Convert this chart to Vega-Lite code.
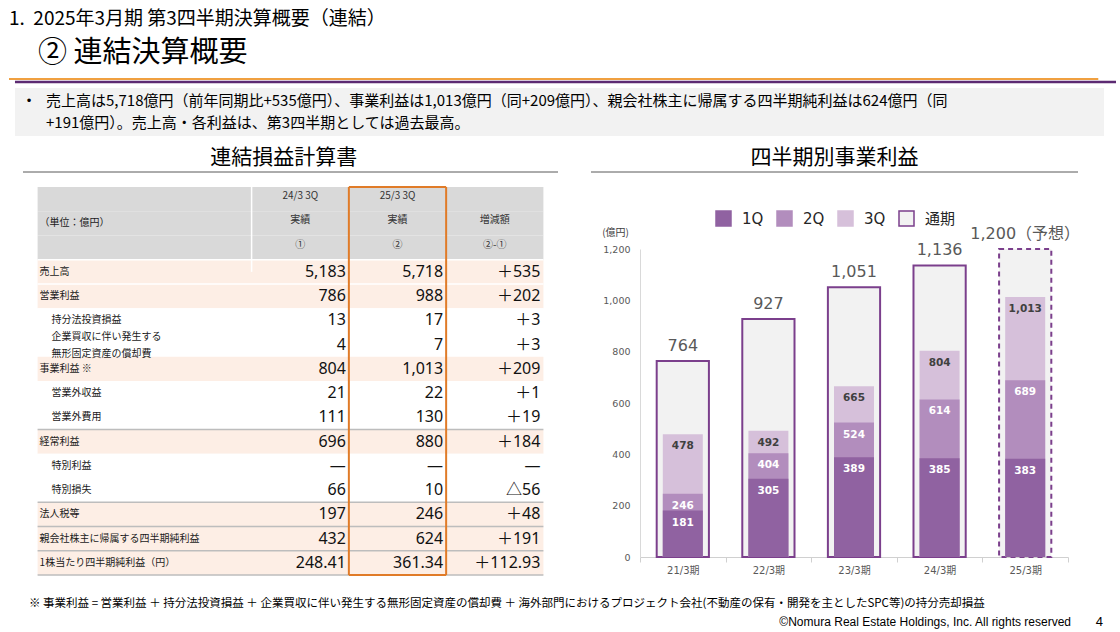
{
"$schema":"https://vega.github.io/schema/vega-lite/v6.json",
"background":"#ffffff",
"padding":{"left":8,"top":10,"right":5,"bottom":0},
"config":{"view":{"stroke":null},"font":"Noto Sans CJK JP"},
"title":{"text":"1.\u00a0\u00a02025年3月期 第3四半期決算概要（連結）","subtitle":"\u200b\u3000② 連結決算概要","anchor":"start","frame":"group","fontSize":19,"fontWeight":"normal","font":"Noto Sans CJK JP","color":"#000000","subtitleFontSize":29,"subtitleFont":"Noto Sans CJK JP","subtitleColor":"#000000","subtitlePadding":10,"offset":10},
"datasets":{
"rows":[
{"r":"h1","shade":"header","below":"none"},
{"r":"h2","shade":"header","below":"none","level":0,"label":"（単位：億円）"},
{"r":"h3","shade":"header","below":"white"},
{"r":"r1","shade":"peach","level":0,"label":"売上高","below":"white"},
{"r":"r2","shade":"peach","level":0,"label":"営業利益","below":"none"},
{"r":"r3","shade":"white","level":1,"label":"持分法投資損益","below":"none"},
{"r":"r4","shade":"white","level":2,"label":"企業買収に伴い発生する\n無形固定資産の償却費","below":"none"},
{"r":"r5","shade":"peach","level":0,"label":"事業利益  ※","below":"none"},
{"r":"r6","shade":"white","level":1,"label":"営業外収益","below":"none"},
{"r":"r7","shade":"white","level":1,"label":"営業外費用","below":"gray"},
{"r":"r8","shade":"peach","level":0,"label":"経常利益","below":"none"},
{"r":"r9","shade":"white","level":1,"label":"特別利益","below":"none"},
{"r":"r10","shade":"white","level":1,"label":"特別損失","below":"gray"},
{"r":"r11","shade":"peach","level":0,"label":"法人税等","below":"gray"},
{"r":"r12","shade":"peach","level":0,"label":"親会社株主に帰属する四半期純利益","below":"gray"},
{"r":"r13","shade":"peach","level":0,"label":"1株当たり四半期純利益（円）","below":"gray"}
],
"cells":[
{"r":"h1","col":1,"kind":"header","text":"24/3 3Q"},
{"r":"h1","col":2,"kind":"header","text":"25/3 3Q"},
{"r":"h2","col":1,"kind":"header","text":"実績"},
{"r":"h2","col":2,"kind":"header","text":"実績"},
{"r":"h2","col":3,"kind":"header","text":"増減額"},
{"r":"h3","col":1,"kind":"header","text":"①"},
{"r":"h3","col":2,"kind":"header","text":"②"},
{"r":"h3","col":3,"kind":"header","text":"②-①"},
{"r":"r1","col":1,"kind":"body","text":"5,183"},{"r":"r1","col":2,"kind":"body","text":"5,718"},{"r":"r1","col":3,"kind":"body","text":"＋535"},
{"r":"r2","col":1,"kind":"body","text":"786"},{"r":"r2","col":2,"kind":"body","text":"988"},{"r":"r2","col":3,"kind":"body","text":"＋202"},
{"r":"r3","col":1,"kind":"body","text":"13"},{"r":"r3","col":2,"kind":"body","text":"17"},{"r":"r3","col":3,"kind":"body","text":"＋3"},
{"r":"r4","col":1,"kind":"body","text":"4"},{"r":"r4","col":2,"kind":"body","text":"7"},{"r":"r4","col":3,"kind":"body","text":"＋3"},
{"r":"r5","col":1,"kind":"body","text":"804"},{"r":"r5","col":2,"kind":"body","text":"1,013"},{"r":"r5","col":3,"kind":"body","text":"＋209"},
{"r":"r6","col":1,"kind":"body","text":"21"},{"r":"r6","col":2,"kind":"body","text":"22"},{"r":"r6","col":3,"kind":"body","text":"＋1"},
{"r":"r7","col":1,"kind":"body","text":"111"},{"r":"r7","col":2,"kind":"body","text":"130"},{"r":"r7","col":3,"kind":"body","text":"＋19"},
{"r":"r8","col":1,"kind":"body","text":"696"},{"r":"r8","col":2,"kind":"body","text":"880"},{"r":"r8","col":3,"kind":"body","text":"＋184"},
{"r":"r9","col":1,"kind":"body","text":"―"},{"r":"r9","col":2,"kind":"body","text":"―"},{"r":"r9","col":3,"kind":"body","text":"―"},
{"r":"r10","col":1,"kind":"body","text":"66"},{"r":"r10","col":2,"kind":"body","text":"10"},{"r":"r10","col":3,"kind":"body","text":"△56"},
{"r":"r11","col":1,"kind":"body","text":"197"},{"r":"r11","col":2,"kind":"body","text":"246"},{"r":"r11","col":3,"kind":"body","text":"＋48"},
{"r":"r12","col":1,"kind":"body","text":"432"},{"r":"r12","col":2,"kind":"body","text":"624"},{"r":"r12","col":3,"kind":"body","text":"＋191"},
{"r":"r13","col":1,"kind":"body","text":"248.41"},{"r":"r13","col":2,"kind":"body","text":"361.34"},{"r":"r13","col":3,"kind":"body","text":"＋112.93"}
],
"bars":[
{"period":"21/3期","series":"通期","value":764,"label":"764","type":"実績"},
{"period":"21/3期","series":"3Q","value":478},
{"period":"21/3期","series":"2Q","value":246},
{"period":"21/3期","series":"1Q","value":181},
{"period":"22/3期","series":"通期","value":927,"label":"927","type":"実績"},
{"period":"22/3期","series":"3Q","value":492},
{"period":"22/3期","series":"2Q","value":404},
{"period":"22/3期","series":"1Q","value":305},
{"period":"23/3期","series":"通期","value":1051,"label":"1,051","type":"実績"},
{"period":"23/3期","series":"3Q","value":665},
{"period":"23/3期","series":"2Q","value":524},
{"period":"23/3期","series":"1Q","value":389},
{"period":"24/3期","series":"通期","value":1136,"label":"1,136","type":"実績"},
{"period":"24/3期","series":"3Q","value":804},
{"period":"24/3期","series":"2Q","value":614},
{"period":"24/3期","series":"1Q","value":385},
{"period":"25/3期","series":"通期","value":1200,"label":"1,200（予想）","type":"予想"},
{"period":"25/3期","series":"3Q","value":1013},
{"period":"25/3期","series":"2Q","value":689},
{"period":"25/3期","series":"1Q","value":383}
]
},
"spacing":11,
"resolve":{"scale":{"color":"independent","stroke":"independent","strokeDash":"independent"},"legend":{"color":"independent","stroke":"independent","strokeDash":"independent"}},
"vconcat":[
{"spacing":4,"vconcat":[
 {"width":1107,"height":3,"data":{"values":[{"k":1}]},"layer":[
  {"mark":{"type":"rule","stroke":"#f0a040","strokeWidth":2},"encoding":{"x":{"datum":0,"type":"quantitative","scale":{"domain":[0,1]},"axis":null},"x2":{"datum":0.984},"y":{"datum":1,"type":"quantitative","scale":{"domain":[0,1]},"axis":null}}},
  {"mark":{"type":"rule","stroke":"#5c2a72","strokeWidth":2.5},"encoding":{"x":{"datum":0.0054,"type":"quantitative","scale":{"domain":[0,1]},"axis":null},"x2":{"datum":1},"y":{"datum":0,"type":"quantitative","scale":{"domain":[0,1]},"axis":null}}}
 ]},
 {"width":1095,"height":48,"resolve":{"scale":{"y":"independent"}},
  "layer":[
   {"data":{"values":[{"k":1}]},"mark":{"type":"rect","color":"#f2f2f2"},
    "encoding":{"x":{"datum":0.00548,"type":"quantitative","scale":{"domain":[0,1]},"axis":null},"x2":{"datum":1},"y":{"datum":0,"type":"quantitative","scale":{"domain":[0,1]},"axis":null},"y2":{"datum":1}}},
   {"data":{"values":[{"line":1,"text":"売上高は5,718億円（前年同期比+535億円）、事業利益は1,013億円（同+209億円）、親会社株主に帰属する四半期純利益は624億円（同"},{"line":2,"text":"+191億円）。売上高・各利益は、第3四半期としては過去最高。"}]},
    "mark":{"type":"text","align":"left","baseline":"middle","dx":37,"fontSize":15,"font":"Noto Sans CJK JP","color":"#000000"},
    "encoding":{"x":{"datum":0,"type":"quantitative","scale":{"domain":[0,1]},"axis":null},"y":{"field":"line","type":"ordinal","scale":{"type":"point","domain":[1,2],"padding":0.6},"axis":null},"text":{"field":"text"}}},
   {"data":{"values":[{"line":1}]},"mark":{"type":"text","align":"center","baseline":"middle","dx":20,"fontSize":12,"font":"DejaVu Sans","color":"#000000"},
    "encoding":{"x":{"datum":0,"type":"quantitative","scale":{"domain":[0,1]},"axis":null},"y":{"field":"line","type":"ordinal","scale":{"type":"point","domain":[1,2],"padding":0.6},"axis":null},"text":{"value":"•"}}}
  ]}
]},
{"spacing":19,
 "resolve":{"scale":{"color":"independent","stroke":"independent","strokeDash":"independent"},"legend":{"color":"independent","stroke":"independent","strokeDash":"independent"}},
 "vconcat":[
 {"spacing":31,
  "resolve":{"scale":{"color":"independent","stroke":"independent","strokeDash":"independent"},"legend":{"color":"independent","stroke":"independent","strokeDash":"independent"}},
  "hconcat":[
  {"spacing":13,"vconcat":[
   {"width":549,"height":1,"title":{"text":"連結損益計算書","fontSize":21,"fontWeight":"normal","font":"Noto Sans CJK JP","color":"#000000","offset":3,"anchor":"middle","frame":"bounds"},
    "data":{"values":[{"k":1}]},"mark":{"type":"rule","stroke":"#595959","strokeWidth":1},
    "encoding":{"x":{"datum":0,"type":"quantitative","scale":{"domain":[-0.02617,1],"nice":false,"zero":false},"axis":null},"x2":{"datum":1},"y":{"datum":0,"type":"quantitative","scale":{"domain":[0,1]},"axis":null}}},
   {"width":549,"height":388,"layer":[
    {"data":{"name":"rows"},"mark":{"type":"rect"},
     "encoding":{"x":{"datum":-2.2,"type":"quantitative","scale":{"domain":[-2.494,3.15],"nice":false,"zero":false},"axis":null},"x2":{"datum":3},
      "y":{"field":"r","type":"ordinal","scale":{"type":"band","domain":["h1","h2","h3","r1","r2","r3","r4","r5","r6","r7","r8","r9","r10","r11","r12","r13"],"paddingInner":0,"paddingOuter":0},"axis":null},
      "fill":{"condition":[{"test":"datum.shade === 'header'","value":"#d9d9d9"},{"test":"datum.shade === 'peach'","value":"#fdeee5"}],"value":"#ffffff"}}},
    {"data":{"name":"rows"},"transform":[{"filter":"datum.below !== 'none'"}],"mark":{"type":"rule","strokeWidth":1.5},
     "encoding":{"x":{"datum":-2.2,"type":"quantitative","scale":{"domain":[-2.494,3.15],"nice":false,"zero":false},"axis":null},"x2":{"datum":3},
      "y":{"field":"r","type":"ordinal","bandPosition":1,"scale":{"type":"band","domain":["h1","h2","h3","r1","r2","r3","r4","r5","r6","r7","r8","r9","r10","r11","r12","r13"],"paddingInner":0,"paddingOuter":0},"axis":null},
      "stroke":{"condition":{"test":"datum.below === 'white'","value":"#ffffff"},"value":"#bdbdbd"}}},
    {"data":{"values":[{"r":"h1","r2":"r1"}]},"mark":{"type":"rule","stroke":"#ffffff","strokeWidth":1.5},
     "encoding":{"x":{"datum":0,"type":"quantitative","scale":{"domain":[-2.494,3.15],"nice":false,"zero":false},"axis":null},
      "y":{"field":"r","type":"ordinal","bandPosition":0,"scale":{"type":"band","domain":["h1","h2","h3","r1","r2","r3","r4","r5","r6","r7","r8","r9","r10","r11","r12","r13"],"paddingInner":0,"paddingOuter":0},"axis":null},
      "y2":{"field":"r2"}}},
    {"data":{"name":"rows"},"transform":[{"filter":"datum.level === 0"}],"mark":{"type":"text","align":"left","baseline":"middle","dx":2,"fontSize":10,"font":"Noto Sans CJK JP","color":"#1a1a1a"},
     "encoding":{"x":{"datum":-2.2,"type":"quantitative","scale":{"domain":[-2.494,3.15],"nice":false,"zero":false},"axis":null},
      "y":{"field":"r","type":"ordinal","scale":{"type":"band","domain":["h1","h2","h3","r1","r2","r3","r4","r5","r6","r7","r8","r9","r10","r11","r12","r13"],"paddingInner":0,"paddingOuter":0},"axis":null},
      "text":{"field":"label"}}},
    {"data":{"name":"rows"},"transform":[{"filter":"datum.level === 1"}],"mark":{"type":"text","align":"left","baseline":"middle","dx":14,"fontSize":10,"font":"Noto Sans CJK JP","color":"#1a1a1a"},
     "encoding":{"x":{"datum":-2.2,"type":"quantitative","scale":{"domain":[-2.494,3.15],"nice":false,"zero":false},"axis":null},
      "y":{"field":"r","type":"ordinal","scale":{"type":"band","domain":["h1","h2","h3","r1","r2","r3","r4","r5","r6","r7","r8","r9","r10","r11","r12","r13"],"paddingInner":0,"paddingOuter":0},"axis":null},
      "text":{"field":"label"}}},
    {"data":{"name":"rows"},"transform":[{"filter":"datum.level === 2"}],"mark":{"type":"text","align":"left","baseline":"middle","dx":14,"dy":-8,"fontSize":10,"lineBreak":"\n","lineHeight":17,"font":"Noto Sans CJK JP","color":"#1a1a1a"},
     "encoding":{"x":{"datum":-2.2,"type":"quantitative","scale":{"domain":[-2.494,3.15],"nice":false,"zero":false},"axis":null},
      "y":{"field":"r","type":"ordinal","scale":{"type":"band","domain":["h1","h2","h3","r1","r2","r3","r4","r5","r6","r7","r8","r9","r10","r11","r12","r13"],"paddingInner":0,"paddingOuter":0},"axis":null},
      "text":{"field":"label"}}},
    {"data":{"name":"cells"},"transform":[{"filter":"datum.kind === 'header'"}],"mark":{"type":"text","align":"center","baseline":"middle","dx":-48.6,"dy":-3,"fontSize":10,"font":"Noto Sans CJK JP","color":"#333333"},
     "encoding":{"x":{"field":"col","type":"quantitative","scale":{"domain":[-2.494,3.15],"nice":false,"zero":false},"axis":null},
      "y":{"field":"r","type":"ordinal","scale":{"type":"band","domain":["h1","h2","h3","r1","r2","r3","r4","r5","r6","r7","r8","r9","r10","r11","r12","r13"],"paddingInner":0,"paddingOuter":0},"axis":null},
      "text":{"field":"text"}}},
    {"data":{"name":"cells"},"transform":[{"filter":"datum.kind === 'body'"}],"mark":{"type":"text","align":"right","baseline":"middle","dx":-3,"fontSize":16,"font":"Noto Sans, Noto Sans CJK JP","color":"#111111"},
     "encoding":{"x":{"field":"col","type":"quantitative","scale":{"domain":[-2.494,3.15],"nice":false,"zero":false},"axis":null},
      "y":{"field":"r","type":"ordinal","scale":{"type":"band","domain":["h1","h2","h3","r1","r2","r3","r4","r5","r6","r7","r8","r9","r10","r11","r12","r13"],"paddingInner":0,"paddingOuter":0},"axis":null},
      "text":{"field":"text"}}},
    {"data":{"values":[{"k":1}]},"mark":{"type":"rule","stroke":"#e07b28","strokeWidth":2},
     "encoding":{"x":{"datum":1,"type":"quantitative","scale":{"domain":[-2.494,3.15],"nice":false,"zero":false},"axis":null}}},
    {"data":{"values":[{"k":1}]},"mark":{"type":"rule","stroke":"#e07b28","strokeWidth":2},
     "encoding":{"x":{"datum":2,"type":"quantitative","scale":{"domain":[-2.494,3.15],"nice":false,"zero":false},"axis":null}}},
    {"data":{"values":[{"r":"h1"}]},"mark":{"type":"rule","stroke":"#e07b28","strokeWidth":2},
     "encoding":{"x":{"datum":1,"type":"quantitative","scale":{"domain":[-2.494,3.15],"nice":false,"zero":false},"axis":null},"x2":{"datum":2},
      "y":{"field":"r","type":"ordinal","bandPosition":0,"scale":{"type":"band","domain":["h1","h2","h3","r1","r2","r3","r4","r5","r6","r7","r8","r9","r10","r11","r12","r13"],"paddingInner":0,"paddingOuter":0},"axis":null}}},
    {"data":{"values":[{"r":"r13"}]},"mark":{"type":"rule","stroke":"#e07b28","strokeWidth":2},
     "encoding":{"x":{"datum":1,"type":"quantitative","scale":{"domain":[-2.494,3.15],"nice":false,"zero":false},"axis":null},"x2":{"datum":2},
      "y":{"field":"r","type":"ordinal","bandPosition":1,"scale":{"type":"band","domain":["h1","h2","h3","r1","r2","r3","r4","r5","r6","r7","r8","r9","r10","r11","r12","r13"],"paddingInner":0,"paddingOuter":0},"axis":null}}}
   ]}
  ]},
  {"spacing":37,
   "resolve":{"scale":{"color":"independent","stroke":"independent","strokeDash":"independent"},"legend":{"color":"independent","stroke":"independent","strokeDash":"independent"}},
   "vconcat":[
   {"width":428,"height":1,"title":{"text":"四半期別事業利益","fontSize":21,"fontWeight":"normal","font":"Noto Sans CJK JP","color":"#000000","offset":3,"anchor":"middle","frame":"bounds"},
    "data":{"values":[{"k":1}]},"mark":{"type":"rule","stroke":"#595959","strokeWidth":1},
    "encoding":{"x":{"datum":-0.1145,"type":"quantitative","scale":{"domain":[0,1],"nice":false,"zero":false},"axis":null},"x2":{"datum":1.0234},"y":{"datum":0,"type":"quantitative","scale":{"domain":[0,1]},"axis":null}}},
   {"width":428,"height":308,"data":{"name":"bars"},
    "encoding":{
     "x":{"field":"period","type":"nominal","sort":null,"scale":{"type":"band","paddingInner":0,"paddingOuter":0},"axis":{"title":null,"labelAngle":0,"labelFontSize":10,"labelFont":"DejaVu Sans, Noto Sans CJK JP","labelColor":"#595959","domainColor":"#d0d0d0","tickColor":"#d0d0d0","tickSize":5,"tickBand":"extent","labelPadding":3}},
     "y":{"field":"value","type":"quantitative","stack":null,"scale":{"domain":[0,1200],"nice":false},"axis":{"values":[0,200,400,600,800,1000,1200],"format":",.0f","grid":false,"ticks":false,"labelFontSize":9.5,"labelColor":"#595959","labelFont":"DejaVu Sans","labelPadding":10,"domainColor":"#d9d9d9","minExtent":49,"title":"(億円)","titleAngle":0,"titleX":-25,"titleY":-17,"titleAlign":"center","titleBaseline":"middle","titleFontSize":10,"titleFontWeight":"normal","titleColor":"#404040","titleFont":"Noto Sans CJK JP"}}
    },
    "layer":[
     {"transform":[{"filter":"datum.series === '通期'"}],"mark":{"type":"bar","width":{"band":0.61},"strokeWidth":2},
      "encoding":{
       "color":{"field":"series","type":"nominal","scale":{"domain":["1Q","2Q","3Q","通期"],"range":["#9062a1","#b28dbd","#d6c0da","#f2f2f2"]},"legend":{"orient":"none","legendX":75,"legendY":-39,"direction":"horizontal","title":null,"symbolType":"square","symbolSize":225,"labelFontSize":15,"labelFont":"DejaVu Sans, Noto Sans CJK JP","labelColor":"#262626","labelOffset":10,"columnPadding":10,"symbolStrokeWidth":1.5}},
       "stroke":{"field":"series","type":"nominal","scale":{"domain":["1Q","2Q","3Q","通期"],"range":["#9062a1","#b28dbd","#d6c0da","#7b3f8c"]},"legend":{"orient":"none","legendX":75,"legendY":-39,"direction":"horizontal","title":null,"symbolType":"square","symbolSize":225,"labelFontSize":15,"labelFont":"DejaVu Sans, Noto Sans CJK JP","labelColor":"#262626","labelOffset":10,"columnPadding":10,"symbolStrokeWidth":1.5}},
       "strokeDash":{"field":"type","type":"nominal","scale":{"domain":["実績","予想"],"range":[[1,0],[5,4]]},"legend":null}}},
     {"transform":[{"filter":"datum.series !== '通期'"}],"mark":{"type":"bar","width":{"band":0.467}},
      "encoding":{
       "color":{"field":"series","type":"nominal","scale":{"domain":["1Q","2Q","3Q","通期"],"range":["#9062a1","#b28dbd","#d6c0da","#f2f2f2"]},"legend":{"orient":"none","legendX":75,"legendY":-39,"direction":"horizontal","title":null,"symbolType":"square","symbolSize":225,"labelFontSize":15,"labelFont":"DejaVu Sans, Noto Sans CJK JP","labelColor":"#262626","labelOffset":10,"columnPadding":10,"symbolStrokeWidth":1.5}},
       "order":{"field":"value","type":"quantitative","sort":"descending"}}},
     {"transform":[{"filter":"datum.series !== '通期'"}],"mark":{"type":"text","baseline":"middle","dy":12,"fontSize":10.5,"fontWeight":"bold","font":"DejaVu Sans"},
      "encoding":{"text":{"field":"value","type":"quantitative","format":","},"color":{"condition":{"test":"datum.series === '3Q'","value":"#404040"},"value":"#ffffff"}}},
     {"transform":[{"filter":"datum.series === '通期'"}],"mark":{"type":"text","baseline":"middle","dy":-15,"fontSize":16,"font":"DejaVu Sans, Noto Sans CJK JP","color":"#595959"},
      "encoding":{"text":{"field":"label"}}}
    ]}
  ]}
 ]},
 {"width":1095,"height":36,"layer":[
  {"data":{"values":[{"line":1,"text":"※ 事業利益 = 営業利益 ＋ 持分法投資損益 ＋ 企業買収に伴い発生する無形固定資産の償却費 ＋ 海外部門におけるプロジェクト会社(不動産の保有・開発を主としたSPC等)の持分売却損益"}]},
   "mark":{"type":"text","align":"left","baseline":"middle","dx":20,"fontSize":11.5,"font":"Noto Sans CJK JP","color":"#000000"},
   "encoding":{"x":{"datum":0,"type":"quantitative","scale":{"domain":[0,1]},"axis":null},"y":{"field":"line","type":"ordinal","scale":{"type":"point","domain":[1,2],"padding":0.5},"axis":null},"text":{"field":"text"}}},
  {"data":{"values":[{"line":2,"text":"©Nomura Real Estate Holdings, Inc. All rights reserved"}]},
   "mark":{"type":"text","align":"right","baseline":"middle","dx":-33,"fontSize":12,"font":"Liberation Sans","color":"#000000"},
   "encoding":{"x":{"datum":1,"type":"quantitative","scale":{"domain":[0,1]},"axis":null},"y":{"field":"line","type":"ordinal","scale":{"type":"point","domain":[1,2],"padding":0.5},"axis":null},"text":{"field":"text"}}},
  {"data":{"values":[{"line":2,"text":"4"}]},
   "mark":{"type":"text","align":"right","baseline":"middle","dx":-1,"fontSize":13,"font":"Liberation Sans","color":"#000000"},
   "encoding":{"x":{"datum":1,"type":"quantitative","scale":{"domain":[0,1]},"axis":null},"y":{"field":"line","type":"ordinal","scale":{"type":"point","domain":[1,2],"padding":0.5},"axis":null},"text":{"field":"text"}}}
 ]}
]}
]
}
